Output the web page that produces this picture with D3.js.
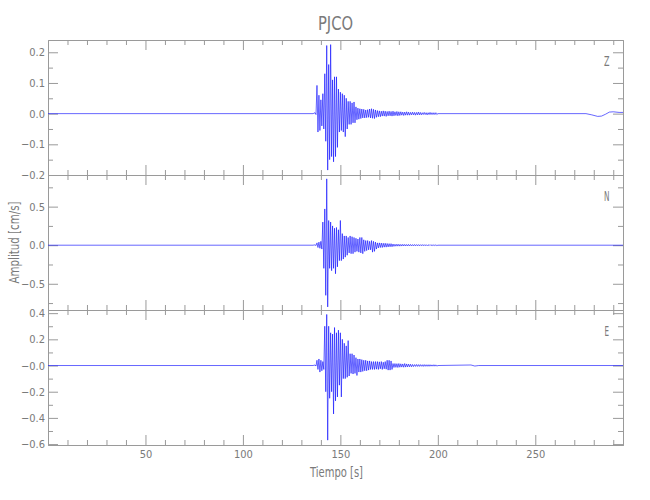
<!DOCTYPE html>
<html><head><meta charset="utf-8">
<script src="https://cdn.jsdelivr.net/npm/d3@7"></script>
<style>body{margin:0;background:#fff} svg{display:block}</style>
</head><body>
<svg id="c" width="650" height="500"></svg>
<script>
// ---- data ----
const stationName = "PJCO";
const components = ["Z", "N", "E"];
const xDomain = [0, 295];
const xMajorTicks = [50, 100, 150, 200, 250];
const xMinorTicks = [10,20,30,40,60,70,80,90,110,120,130,140,160,170,180,190,210,220,230,240,260,270,280,290];

// envelope bins (1 s) from t = 137 s to t = 199 s : max and min amplitude in cm/s
const binStart = 137;
const zMax = [0.003, 0.092, 0.06, 0.045, 0.065, 0.13, 0.222, 0.16, 0.225, 0.11,
  0.12, 0.12, 0.08, 0.07, 0.065, 0.06, 0.05, 0.04, 0.04, 0.035,
  0.038, 0.022, 0.018, 0.016, 0.015, 0.014, 0.012, 0.013, 0.015, 0.016,
  0.014, 0.012, 0.01, 0.009, 0.008, 0.009, 0.008, 0.007, 0.008, 0.007,
  0.008, 0.006, 0.007, 0.006, 0.006, 0.005, 0.005, 0.006, 0.005, 0.004,
  0.005, 0.004, 0.004, 0.005, 0.004, 0.003, 0.004, 0.003, 0.003, 0.004,
  0.003, 0.003, 0.003];
const zMin = [-0.003, -0.06, -0.055, -0.04, -0.05, -0.09, -0.184, -0.15, -0.14, -0.157,
  -0.14, -0.11, -0.06, -0.055, -0.06, -0.075, -0.05, -0.035, -0.035, -0.03,
  -0.03, -0.02, -0.018, -0.016, -0.014, -0.014, -0.013, -0.012, -0.014, -0.015,
  -0.016, -0.012, -0.01, -0.01, -0.008, -0.008, -0.009, -0.007, -0.007, -0.008,
  -0.007, -0.006, -0.007, -0.006, -0.005, -0.006, -0.005, -0.005, -0.005, -0.004,
  -0.004, -0.005, -0.004, -0.004, -0.004, -0.003, -0.003, -0.004, -0.003, -0.003,
  -0.003, -0.003, -0.003];
const nMax = [0.005, 0.03, 0.04, 0.05, 0.3, 0.47, 0.86, 0.32, 0.3, 0.25,
  0.22, 0.23, 0.2, 0.32, 0.15, 0.12, 0.12, 0.1, 0.12, 0.11,
  0.1, 0.09, 0.08, 0.1, 0.1, 0.07, 0.06, 0.06, 0.05, 0.06,
  0.05, 0.04, 0.03, 0.03, 0.028, 0.025, 0.025, 0.022, 0.02, 0.02,
  0.015, 0.012, 0.013, 0.012, 0.01, 0.011, 0.01, 0.009, 0.01, 0.009,
  0.008, 0.009, 0.008, 0.008, 0.007, 0.008, 0.007, 0.007, 0.006, 0.007,
  0.006, 0.006, 0.006];
const nMin = [-0.005, -0.03, -0.04, -0.05, -0.3, -0.65, -0.8, -0.3, -0.33, -0.3,
  -0.37, -0.28, -0.2, -0.2, -0.18, -0.155, -0.13, -0.1, -0.11, -0.11,
  -0.09, -0.08, -0.09, -0.1, -0.11, -0.08, -0.07, -0.06, -0.06, -0.09,
  -0.08, -0.05, -0.035, -0.03, -0.03, -0.025, -0.025, -0.022, -0.02, -0.02,
  -0.015, -0.013, -0.012, -0.012, -0.011, -0.01, -0.01, -0.01, -0.009, -0.009,
  -0.009, -0.008, -0.008, -0.008, -0.007, -0.007, -0.007, -0.007, -0.006, -0.006,
  -0.006, -0.006, -0.006];
const eMax = [0.004, 0.04, 0.05, 0.04, 0.03, 0.3, 0.39, 0.3, 0.25, 0.24,
  0.29, 0.25, 0.27, 0.25, 0.2, 0.17, 0.15, 0.19, 0.09, 0.09,
  0.08, 0.06, 0.05, 0.05, 0.045, 0.04, 0.04, 0.035, 0.035, 0.03,
  0.03, 0.03, 0.03, 0.028, 0.03, 0.025, 0.03, 0.04, 0.04, 0.035,
  0.015, 0.015, 0.014, 0.015, 0.013, 0.012, 0.015, 0.012, 0.011, 0.01,
  0.008, 0.007, 0.008, 0.007, 0.007, 0.006, 0.007, 0.006, 0.006, 0.006,
  0.005, 0.006, 0.005];
const eMin = [-0.004, -0.03, -0.05, -0.04, -0.03, -0.2, -0.57, -0.25, -0.2, -0.37,
  -0.27, -0.24, -0.15, -0.24, -0.1, -0.1, -0.09, -0.08, -0.06, -0.065,
  -0.06, -0.076, -0.05, -0.05, -0.045, -0.04, -0.04, -0.035, -0.03, -0.03,
  -0.03, -0.028, -0.03, -0.025, -0.03, -0.025, -0.028, -0.035, -0.035, -0.03,
  -0.015, -0.014, -0.015, -0.013, -0.012, -0.013, -0.012, -0.011, -0.01, -0.01,
  -0.008, -0.007, -0.007, -0.007, -0.006, -0.007, -0.006, -0.006, -0.006, -0.005,
  -0.005, -0.005, -0.005];

// quiet parts before and after the strong motion (time s, amplitude cm/s)
const zQuietT = [0, 136, 200, 276, 279, 282, 284, 286, 288, 290, 293, 295];
const zQuietV = [0, 0, 0, 0, -0.004, -0.009, -0.008, -0.002, 0.005, 0.006, 0.004, 0.004];
const nQuietT = [0, 136, 200, 295];
const nQuietV = [0, 0, 0, 0];
const eQuietT = [0, 136, 200, 217, 219, 221, 295];
const eQuietV = [0, 0, 0, 0.004, -0.004, 0, 0];

// amplitude axes
const zDomain = [-0.2, 0.24], zMajor = [-0.2, -0.1, 0, 0.1, 0.2], zMinor = [-0.15, -0.05, 0.05, 0.15];
const nDomain = [-0.84, 0.91], nMajor = [-0.5, 0, 0.5], nMinor = [-0.75, -0.25, 0.25, 0.75];
const eDomain = [-0.607, 0.424], eMajor = [-0.6, -0.4, -0.2, 0, 0.2, 0.4], eMinor = [-0.5, -0.3, -0.1, 0.1, 0.3];
const eZeroLabel = "\u22120.0";

const xLabel = "Tiempo  [s]";
const yLabel = "Amplitud  [cm/s]";

// ---- drawing ----
const svg = d3.select("#c");
const left = 48, right = 623;
const pw = right - left, ph = 135;
const tops = [40, 175, 310];
const axisCol = "#9a9a9a", textCol = "#7a7a7a";
const font = "'DejaVu Sans Condensed', 'DejaVu Sans', sans-serif";

const x = d3.scaleLinear().domain(xDomain).range([0, pw]);

const panels = [
  {name: components[0], max: zMax, min: zMin, qt: zQuietT, qv: zQuietV, dom: zDomain, major: zMajor, minor: zMinor, zero: "0.0"},
  {name: components[1], max: nMax, min: nMin, qt: nQuietT, qv: nQuietV, dom: nDomain, major: nMajor, minor: nMinor, zero: "0.0"},
  {name: components[2], max: eMax, min: eMin, qt: eQuietT, qv: eQuietV, dom: eDomain, major: eMajor, minor: eMinor, zero: eZeroLabel}
];
const fmt = d3.format(".1f");
const labelWidths = [5.5, 5.5, 4.5];

svg.append("defs").append("clipPath").attr("id", "clip")
  .append("rect").attr("x", 0).attr("y", 0).attr("width", pw).attr("height", ph);

function style(sel) {
  sel.select(".domain").attr("stroke", axisCol);
  sel.selectAll(".tick line").attr("stroke", axisCol);
  sel.selectAll(".tick text").attr("fill", textCol).style("font-family", font).style("font-size", "11px");
}

panels.forEach((p, i) => {
  const g = svg.append("g").attr("transform", `translate(${left},${tops[i]})`);
  const y = d3.scaleLinear().domain(p.dom).range([ph, 0]);

  // left axis
  g.append("g").call(d3.axisLeft(y).tickValues(p.major).tickSize(-10).tickSizeOuter(0).tickPadding(3)
      .tickFormat(v => Math.abs(v) < 1e-9 ? p.zero : fmt(v).replace("-", "\u2212"))).call(style);
  g.append("g").call(d3.axisLeft(y).tickValues(p.minor).tickSize(-5).tickSizeOuter(0).tickFormat("")).call(style);
  // right axis
  g.append("g").attr("transform", `translate(${pw},0)`)
    .call(d3.axisRight(y).tickValues(p.major).tickSize(-10).tickSizeOuter(0).tickFormat("")).call(style);
  g.append("g").attr("transform", `translate(${pw},0)`)
    .call(d3.axisRight(y).tickValues(p.minor).tickSize(-5).tickSizeOuter(0).tickFormat("")).call(style);
  // top axis
  g.append("g").call(d3.axisTop(x).tickValues(xMajorTicks).tickSize(-10).tickSizeOuter(0).tickFormat("")).call(style);
  g.append("g").call(d3.axisTop(x).tickValues(xMinorTicks).tickSize(-5).tickSizeOuter(0).tickFormat("")).call(style);
  // bottom axis
  g.append("g").attr("transform", `translate(0,${ph})`)
    .call(d3.axisBottom(x).tickValues(xMajorTicks).tickSize(-10).tickSizeOuter(0).tickPadding(5)
      .tickFormat(i === 2 ? d3.format("d") : "")).call(style);
  g.append("g").attr("transform", `translate(0,${ph})`)
    .call(d3.axisBottom(x).tickValues(xMinorTicks).tickSize(-5).tickSizeOuter(0).tickFormat("")).call(style);

  // trace
  const pts = [];
  p.qt.forEach((t, k) => { if (t < binStart) pts.push([t, p.qv[k]]); });
  p.max.forEach((v, k) => {
    const t = binStart + k;
    pts.push([t, v]);
    pts.push([t + 0.5, p.min[k]]);
  });
  const binEnd = binStart + p.max.length;
  p.qt.forEach((t, k) => { if (t >= binEnd) pts.push([t, p.qv[k]]); });

  g.append("path").datum(pts)
    .attr("clip-path", "url(#clip)")
    .attr("fill", "none")
    .attr("stroke", "#1010ff")
    .attr("stroke-opacity", 0.8)
    .attr("stroke-width", 0.8)
    .attr("stroke-linejoin", "round")
    .attr("d", d3.line().x(d => x(d[0])).y(d => y(d[1])));

  // component label
  g.append("text")
    .attr("x", 558.7).attr("y", 26)
    .attr("text-anchor", "middle")
    .attr("textLength", labelWidths[i]).attr("lengthAdjust", "spacingAndGlyphs")
    .attr("fill", textCol).style("font-family", font).style("font-size", "14px")
    .text(p.name);
});

// title
svg.append("text").attr("x", 335.5).attr("y", 30).attr("text-anchor", "middle")
  .attr("textLength", 35).attr("lengthAdjust", "spacingAndGlyphs")
  .attr("fill", textCol).style("font-family", font).style("font-size", "20px")
  .text(stationName);

// x label
svg.append("text").attr("x", 336.5).attr("y", 476.5).attr("text-anchor", "middle")
  .attr("textLength", 53).attr("lengthAdjust", "spacingAndGlyphs")
  .attr("fill", textCol).style("font-family", font).style("font-size", "14px")
  .text(xLabel);

// y label
svg.append("text").attr("transform", "translate(19,242.5) rotate(-90)").attr("text-anchor", "middle")
  .attr("textLength", 82).attr("lengthAdjust", "spacingAndGlyphs")
  .attr("fill", textCol).style("font-family", font).style("font-size", "14px")
  .text(yLabel);
</script></body></html>
